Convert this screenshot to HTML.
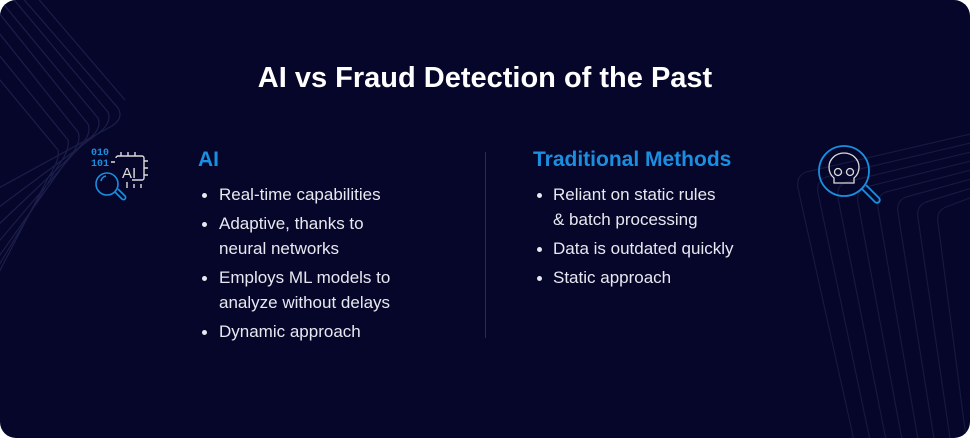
<!DOCTYPE html>
<html><head><style>
html,body{margin:0;padding:0;background:#fff;}
.card{position:absolute;left:0;top:0;width:970px;height:438px;background:#05062a;border-radius:16px;overflow:hidden;font-family:"Liberation Sans",sans-serif;}
.t{position:absolute;white-space:nowrap;}
h1{position:absolute;margin:0;left:0;width:970px;top:62px;text-align:center;color:#fff;font-size:29px;font-weight:bold;}
.h{color:#1a8fe0;font-size:21px;font-weight:bold;}
.b{color:#e8e8f0;font-size:17px;line-height:25px;}
.dot{position:absolute;width:5px;height:5px;border-radius:50%;background:#e8e8f0;}
svg text{stroke:none;}
</style></head><body>
<div class="card">
<svg width="970" height="438" style="position:absolute;left:0;top:0" fill="none">
<g stroke="#1c1e4a" stroke-width="1.2">
<path d="M20,-5 L118,108 Q124,118 112,126 L-5,190"/>
<path d="M10,-5 L108,112 Q112,122 100,132 L-5,210"/>
<path d="M0,0 L98,118 Q102,128 90,138 L-5,228"/>
<path d="M-5,8 L88,124 Q92,134 80,146 L-5,246"/>
<path d="M-5,28 L78,132 Q82,142 70,156 L-5,262"/>
<path d="M-5,50 L68,140 Q70,150 58,166 L-5,272"/>
<path d="M-5,74 L58,150 Q60,160 48,178 L-5,280"/>
<path d="M35,-5 L125,100"/>
</g>
<g stroke="#16183f" stroke-width="1.2">
<path d="M975,133 L806,172 Q796,176 798,188 L855,445"/>
<path d="M975,142 L826,177 Q816,181 818,193 L871,445"/>
<path d="M975,151 L846,182 Q836,186 838,198 L887,445"/>
<path d="M975,160 L866,187 Q856,191 858,203 L903,445"/>
<path d="M975,169 L886,192 Q876,196 878,208 L919,445"/>
<path d="M975,178 L906,197 Q896,201 898,213 L935,445"/>
<path d="M975,187 L926,202 Q916,206 918,218 L951,445"/>
<path d="M975,196 L946,207 Q936,211 938,223 L967,445"/>
</g>
<line x1="485.5" y1="152" x2="485.5" y2="338" stroke="#2a2c55"/>
<!-- AI icon -->
<text x="91" y="155" fill="#1a8fe0" font-family="Liberation Mono,monospace" font-size="10" font-weight="bold">010</text>
<text x="91" y="166" fill="#1a8fe0" font-family="Liberation Mono,monospace" font-size="10" font-weight="bold">101</text>
<g stroke="#dcdcdc" stroke-width="1.4">
<path d="M111,162 h4 M116,158 a2,2 0 0 1 2,-2 h24 a2,2 0 0 1 2,2 v20 a2,2 0 0 1 -2,2 h-10"/>
<path d="M121,156 v-4 M128,156 v-4 M135,156 v-4 M144,161 h4 M144,168 h4 M144,175 h4 M134,184 v4 M141,184 v4 M127,182 v6"/>
</g>
<text x="122" y="178" fill="#dcdcdc" font-size="15" font-family="Liberation Sans,sans-serif">AI</text>
<g stroke="#1a8fe0" stroke-width="1.6">
<circle cx="107" cy="184" r="11"/>
<path d="M101,181 a6,6 0 0 1 5,-5"/>
<path d="M115,192 l7,7 a2,2 0 0 0 3,-3 l-7,-7"/>
</g>
<!-- skull icon -->
<g stroke="#1a8fe0" stroke-width="1.8">
<circle cx="844" cy="171" r="25"/>
<path d="M862,189 l13,13 a2.5,2.5 0 0 0 4,-4 l-13,-13"/>
</g>
<g stroke="#dcdcdc" stroke-width="1.3">
<path d="M834,178 q-5,-4 -5,-11 a15,14 0 0 1 30,0 q0,7 -5,11 v5 h-20 z"/>
<circle cx="838" cy="172" r="3.5"/><circle cx="850" cy="172" r="3.5"/>
</g>
</svg>
<h1>AI vs Fraud Detection of the Past</h1>
<div class="t h" style="left:198px;top:148px">AI</div>
<div class="t h" style="left:533px;top:148px">Traditional Methods</div>

<div class="dot" style="left:202px;top:193px"></div>
<div class="t b" style="left:219px;top:182px">Real-time capabilities</div>
<div class="dot" style="left:202px;top:222px"></div>
<div class="t b" style="left:219px;top:211px">Adaptive, thanks to<br>neural networks</div>
<div class="dot" style="left:202px;top:276px"></div>
<div class="t b" style="left:219px;top:265px">Employs ML models to<br>analyze without delays</div>
<div class="dot" style="left:202px;top:330px"></div>
<div class="t b" style="left:219px;top:319px">Dynamic approach</div>

<div class="dot" style="left:537px;top:193px"></div>
<div class="t b" style="left:553px;top:182px">Reliant on static rules<br>&amp; batch processing</div>
<div class="dot" style="left:537px;top:247px"></div>
<div class="t b" style="left:553px;top:236px">Data is outdated quickly</div>
<div class="dot" style="left:537px;top:276px"></div>
<div class="t b" style="left:553px;top:265px">Static approach</div>
</div>
</body></html>
